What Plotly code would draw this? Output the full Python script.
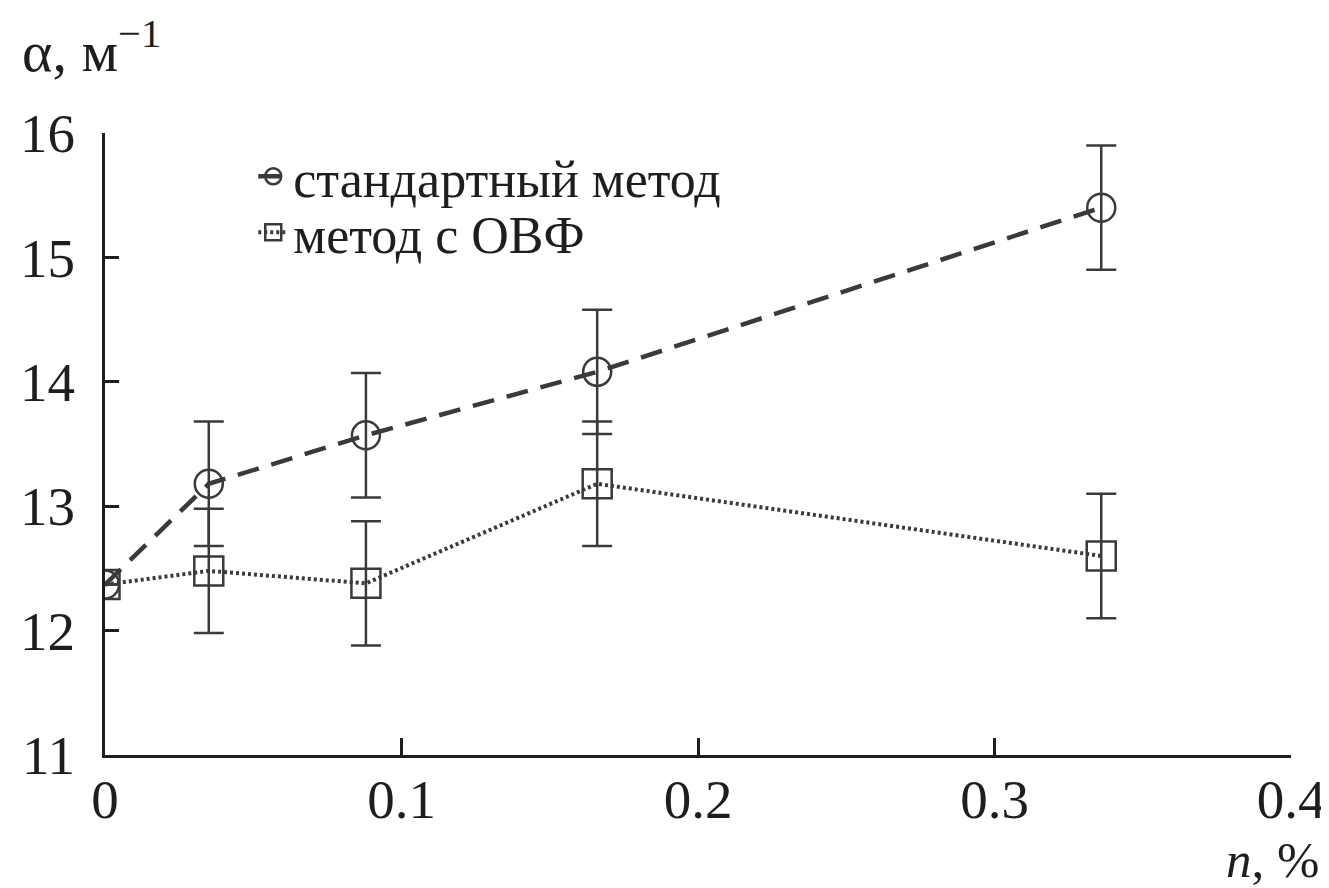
import plotly.graph_objects as go

# data
n_std = [0.0, 0.035, 0.088, 0.166, 0.336]
alpha_std = [12.37, 13.18, 13.57, 14.08, 15.40]
err_std = [None, 0.5, 0.5, 0.5, 0.5]

n_ovf = [0.0, 0.035, 0.088, 0.166, 0.336]
alpha_ovf = [12.37, 12.48, 12.38, 13.18, 12.60]
err_ovf = [None, 0.5, 0.5, 0.5, 0.5]

x_ticks = [0, 0.1, 0.2, 0.3, 0.4]
x_ticktext = ["0", "0.1", "0.2", "0.3", "0.4"]
y_ticks = [11, 12, 13, 14, 15, 16]

FONT = "Liberation Serif"
INK = "#1e1e1e"
LINE = "#3a3a3a"
TICK_SIZE = 55
LEG_SIZE = 52

fig = go.Figure()

fig.add_trace(go.Scatter(
    x=n_std, y=alpha_std, name="стандартный метод",
    mode="lines+markers", legend="legend",
    line=dict(color=LINE, width=4.5, dash="22px,13px"),
    marker=dict(symbol="circle-open", size=28, color=LINE, line=dict(width=2.5, color=LINE)),
    error_y=dict(type="data", array=err_std, visible=True, color=LINE, thickness=2.5, width=15),
    cliponaxis=True,
))

fig.add_trace(go.Scatter(
    x=n_ovf, y=alpha_ovf, name="метод с ОВФ",
    mode="lines+markers", legend="legend2",
    line=dict(color=LINE, width=4, dash="3px,3px"),
    marker=dict(symbol="square-open", size=29, color=LINE, line=dict(width=2.5, color=LINE)),
    error_y=dict(type="data", array=err_ovf, visible=True, color=LINE, thickness=2.5, width=15),
    cliponaxis=True,
))

leg_common = dict(
    xanchor="left", yanchor="middle",
    bgcolor="rgba(0,0,0,0)", borderwidth=0,
    font=dict(family=FONT, size=LEG_SIZE, color=INK),
    itemsizing="trace",
)

fig.update_layout(
    width=1329, height=888,
    paper_bgcolor="white", plot_bgcolor="white",
    margin=dict(l=97, r=42, t=125, b=141),
    font=dict(family=FONT, size=TICK_SIZE, color=INK),
    showlegend=True,
    legend=dict(x=0.125, y=0.93, **leg_common),
    legend2=dict(x=0.125, y=0.84, **leg_common),
    xaxis=dict(
        range=[0, 0.4], tickvals=x_ticks, ticktext=x_ticktext,
        showgrid=False, zeroline=False,
        showline=True, linecolor=INK, linewidth=3, mirror=False,
        ticks="inside", ticklen=17, tickwidth=3, tickcolor=INK,
        ticklabelstandoff=-6,
        tickfont=dict(family=FONT, size=TICK_SIZE, color=INK),
    ),
    yaxis=dict(
        range=[11, 16], tickvals=y_ticks,
        showgrid=False, zeroline=False,
        showline=True, linecolor=INK, linewidth=3, mirror=False,
        ticks="inside", ticklen=14, tickwidth=3, tickcolor=INK,
        ticklabelstandoff=16,
        tickfont=dict(family=FONT, size=TICK_SIZE, color=INK),
    ),
    annotations=[
        dict(text="α, м<sup>−1</sup>", xref="paper", yref="paper",
             x=-0.072, y=1.075, xanchor="left", yanchor="bottom", showarrow=False,
             font=dict(family=FONT, size=58, color=INK)),
        dict(text="<i>n</i>, %", xref="paper", yref="paper",
             x=1.025, y=-0.169, xanchor="right", yanchor="middle", showarrow=False,
             font=dict(family=FONT, size=51, color=INK)),
    ],
)

fig.write_html("out.html")
